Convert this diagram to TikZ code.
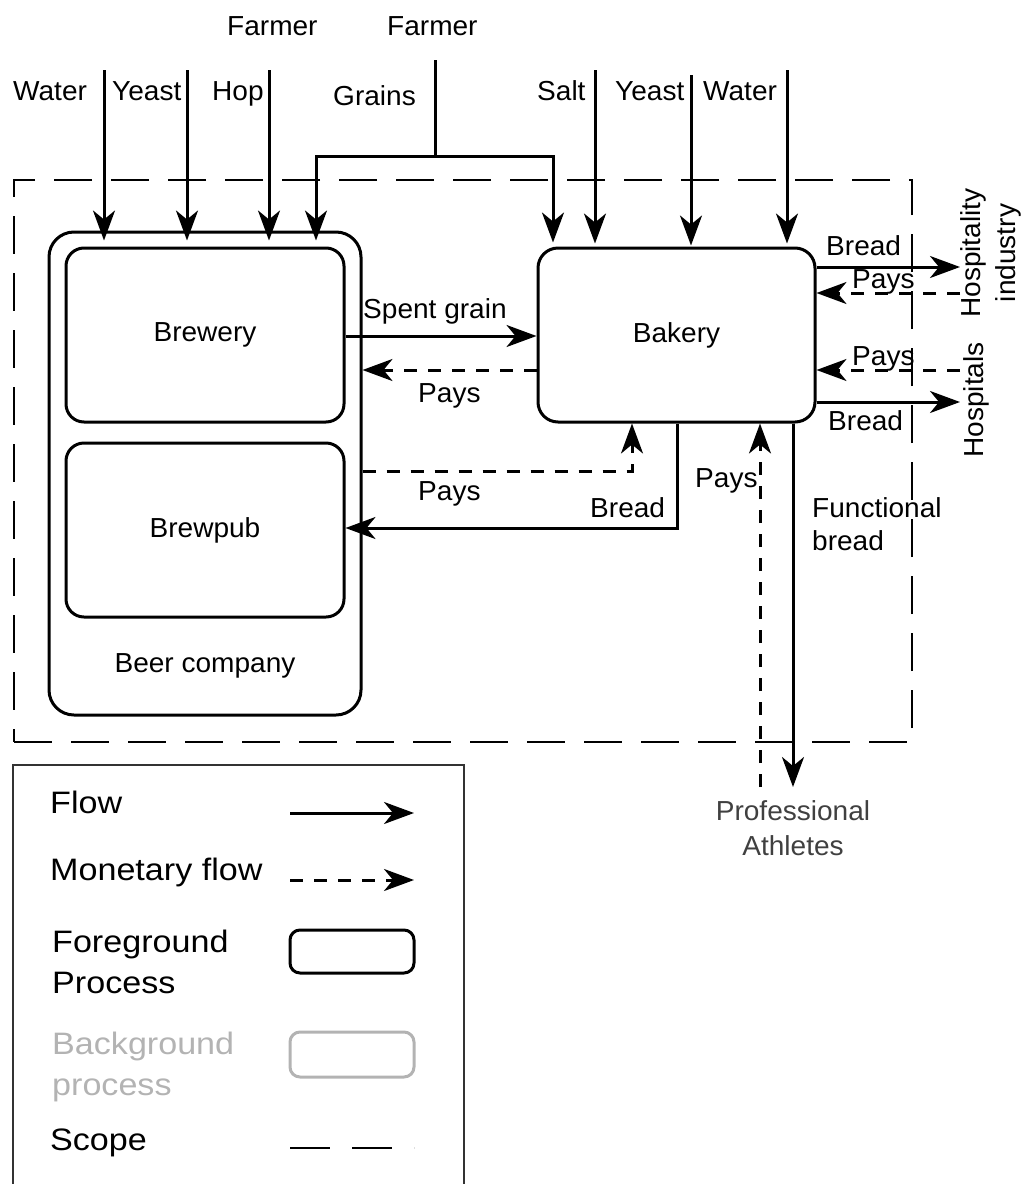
\documentclass[tikz,border=0pt]{standalone}
\usepackage{fontspec}
\setmainfont{Liberation Sans}[FakeStretch=1.02]
\newfontfamily\legfont{Liberation Sans}[FakeStretch=1.1]
\usetikzlibrary{arrows.meta}
\definecolor{bggray}{HTML}{B3B3B3}
\definecolor{frame}{HTML}{333333}
\begin{document}
\begin{tikzpicture}[x=1pt,y=-1pt,
  box/.style={draw, line width=3pt, rounded corners=18pt, inner sep=0pt, font=\fontsize{27.5}{31}\selectfont},
  flow/.style={draw, line width=3pt, -{Stealth[length=30pt,width=22pt,inset=9pt]}},
  money/.style={flow, dash pattern=on 13pt off 11pt},
  scopebox/.style={draw, line width=2.8pt, dash pattern=on 38pt off 19pt, inner sep=0pt},
  lbl/.style={anchor=base west, inner sep=0pt, font=\fontsize{27.5}{31}\selectfont},
  leg/.style={anchor=base west, inner sep=0pt, align=left, font=\legfont\fontsize{31}{41}\selectfont}]
\useasboundingbox (0,0) rectangle (1024,1184);

% scope
\node[scopebox, minimum width=898pt, minimum height=562pt] (scope) at (463,461) {};

% processes
\node[box, rounded corners=25pt, minimum width=312pt, minimum height=483pt] (beer) at (205,473.5) {};
\node[box, minimum width=278pt, minimum height=174pt] (brewery) at (205,335) {Brewery};
\node[box, minimum width=278pt, minimum height=174pt] (brewpub) at (205,530) {Brewpub};
\node[lbl, anchor=base] (beerlbl) at (205,672) {Beer company};
\node[box, rounded corners=20pt, minimum width=277pt, minimum height=174pt] (bakery) at (676.5,335) {Bakery};

% outside actors
\node[lbl, anchor=base, align=center, text=black!75, font=\fontsize{27.5}{35}\selectfont] (ath) at (793,855) {Professional\\Athletes};
\node[lbl, anchor=center, rotate=90, align=center, font=\fontsize{27.5}{35}\selectfont] (hosp) at (991,253) {Hospitality\\industry};
\node[lbl, anchor=center, rotate=90] (hospitals) at (976,400) {Hospitals};

% top labels
\node[lbl] (lwater1) at (13,100) {Water};
\node[lbl] (lyeast1) at (112,100) {Yeast};
\node[lbl] (lhop) at (212,100) {Hop};
\node[lbl] (farmer1) at (227,35) {Farmer};
\node[lbl] (farmer2) at (387,35) {Farmer};
\node[lbl] (lgrains) at (333,105) {Grains};
\node[lbl] (lsalt) at (537,100) {Salt};
\node[lbl] (lyeast2) at (615,100) {Yeast};
\node[lbl] (lwater2) at (703,100) {Water};

% inputs into beer company
\coordinate (iw) at (104,70);
\coordinate (iy) at (187,70);
\coordinate (ih) at (269,70);
\draw[flow, shorten >=-10pt] (iw) -- (iw |- beer.north);
\draw[flow, shorten >=-10pt] (iy) -- (iy |- beer.north);
\draw[flow, shorten >=-10pt] (ih) -- (ih |- beer.north);

% grains
\coordinate (gtop) at (435,60);
\coordinate (gj) at (435,156);
\coordinate (gl) at (316,156);
\coordinate (gr) at (553,156);
\draw[line width=3pt] (gtop) -- (gj);
\draw[flow, shorten >=-10pt] (gj) -- (gl) -- (gl |- beer.north);
\draw[flow, shorten >=4pt] (gj) -- (gr) -- (gr |- bakery.north);

% inputs into bakery
\coordinate (bs) at (595,70);
\coordinate (by) at (691,75);
\coordinate (bw) at (787,70);
\draw[flow, shorten >=3pt] (bs) -- (bs |- bakery.north);
\draw[flow, shorten >=1pt] (by) -- (by |- bakery.north);
\draw[flow, shorten >=3pt] (bw) -- (bw |- bakery.north);

% brewery <-> bakery
\draw[flow] ([yshift=-1pt]brewery.east) -- ([yshift=-1pt]brewery.east -| bakery.west);
\node[lbl] (lspent) at (363,318) {Spent grain};
\draw[money] ([yshift=-35pt]bakery.west) -- ([yshift=-35pt]bakery.west -| beer.east);
\node[lbl] (lpays1) at (418,402) {Pays};

% brewpub <-> bakery
\coordinate (pp) at (632,471);
\draw[money] (pp -| beer.east) -- (pp) -- (pp |- bakery.south);
\node[lbl] (lpays2) at (418,500) {Pays};
\coordinate (bb) at (677,528);
\draw[flow] (bb |- bakery.south) -- (bb) -- (bb -| brewpub.east);
\node[lbl] (lbread1) at (590,517) {Bread};

% hospitality / hospitals
\coordinate (hb) at (960,267);
\coordinate (hp) at (960,293);
\coordinate (sp) at (960,370);
\coordinate (sb) at (960,402);
\draw[flow] (hb -| bakery.east) -- (hb);
\draw[money] (hp) -- (hp -| bakery.east);
\draw[money] (sp) -- (sp -| bakery.east);
\draw[flow] (sb -| bakery.east) -- (sb);
\node[lbl] (lbread2) at (826,255) {Bread};
\node[lbl] (lpays3) at (852,288) {Pays};
\node[lbl] (lpays4) at (852,365) {Pays};
\node[lbl] (lbread3) at (828,430) {Bread};

% athletes
\coordinate (fb) at (793,787);
\coordinate (pa) at (760,787);
\draw[flow] (fb |- bakery.south) -- (fb);
\draw[money] (pa) -- (pa |- bakery.south);
\node[lbl] (lpays5) at (695,487) {Pays};
\node[lbl, align=left, font=\fontsize{27.5}{33}\selectfont] (lfunc) at (812,550) {Functional\\bread};

% legend
\draw[line width=2pt, frame] (13,1190) -- (13,765) -- (464,765) -- (464,1190);
\node[leg] (tflow) at (50,813) {Flow};
\node[leg] (tmoney) at (50,880) {Monetary flow};
\node[leg] (tfg) at (52,993) {Foreground\\Process};
\node[leg, text=bggray] (tbg) at (52,1095) {Background\\process};
\node[leg] (tscope) at (50,1150) {Scope};
\coordinate (lf1) at (290,813); \coordinate (lf2) at (414,813);
\draw[flow] (lf1) -- (lf2);
\coordinate (lm1) at (290,880); \coordinate (lm2) at (414,880);
\draw[money] (lm1) -- (lm2);
\node[box, rounded corners=10pt, minimum width=124pt, minimum height=43pt] (fgsample) at (352,951.5) {};
\node[box, draw=bggray, rounded corners=10pt, minimum width=124pt, minimum height=45pt] (bgsample) at (352,1054.5) {};
\coordinate (ls1) at (290,1148); \coordinate (ls2) at (414,1148);
\draw[line width=2.5pt, dash pattern=on 40pt off 22pt] (ls1) -- (ls2);
\end{tikzpicture}
\end{document}
